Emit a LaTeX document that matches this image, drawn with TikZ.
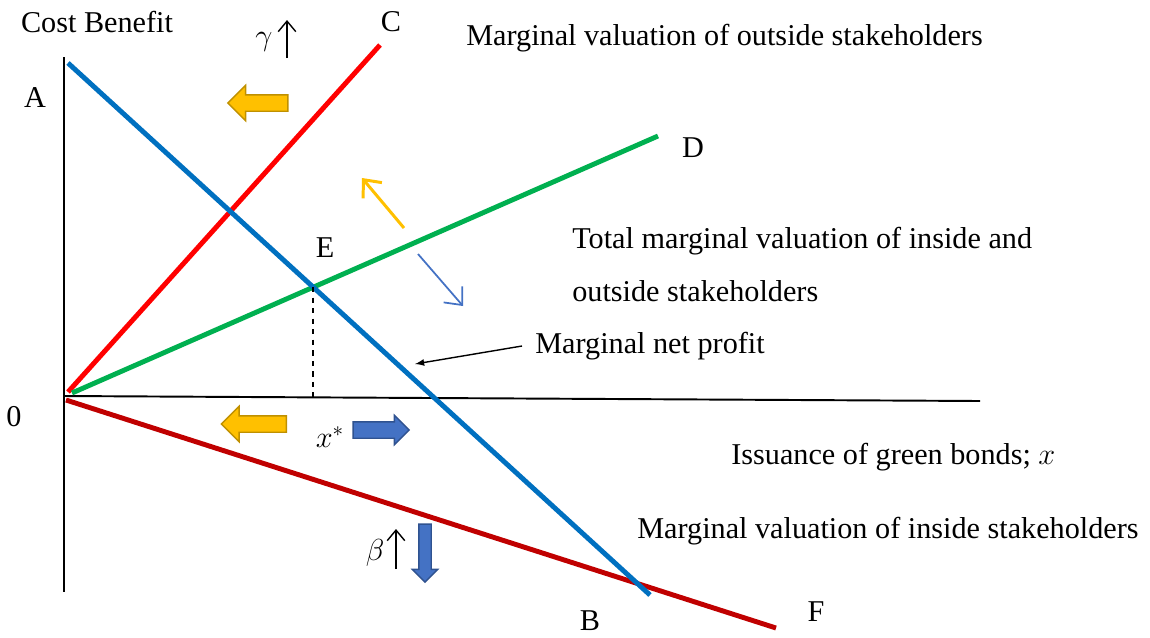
\documentclass[tikz,border=0pt]{standalone}
\usepackage{fontspec}
\setmainfont{Liberation Serif}
\usetikzlibrary{arrows.meta,shapes.arrows}
\definecolor{lineblue}{HTML}{0070C0}
\definecolor{linegreen}{HTML}{00B050}
\definecolor{linedred}{HTML}{C00000}
\definecolor{arrgold}{HTML}{FFC000}
\definecolor{arrgoldd}{HTML}{BF9000}
\definecolor{arrblue}{HTML}{4472C4}
\definecolor{arrblued}{HTML}{2F528F}
\begin{document}
\begin{tikzpicture}[x=0.02cm, y=-0.02cm, >=latex,
    every node/.style={font=\fontsize{17.2}{20}\selectfont, inner sep=0pt},
    curve/.style={line width=2.8pt},
    fat/.style={single arrow, draw, line width=0.8pt, minimum height=1.2cm,
        inner sep=0.15cm, single arrow head extend=0.19cm, single arrow head indent=0pt},
    goldarrow/.style={fat, fill=arrgold, draw=arrgoldd},
    bluearrow/.style={fat, fill=arrblue, draw=arrblued}]
    \useasboundingbox (0,0) rectangle (1150,637);
    % axes
    \coordinate (O) at (64,396);
    \coordinate (ytop) at (64,57);
    \coordinate (ybot) at (64,592);
    \coordinate (xend) at (980,401);
    \draw[line width=1.1pt] (ytop) -- (ybot);
    \draw[line width=1.1pt] (O) -- (xend);

    % curves
    \coordinate (A) at (68,63);   \coordinate (B) at (650,595);
    \coordinate (C0) at (68,392); \coordinate (C) at (380,45);
    \coordinate (D0) at (72,393); \coordinate (D) at (658,136);
    \coordinate (F0) at (66,400); \coordinate (F) at (776,628);
    \coordinate (E) at (313,287); \coordinate (xs) at (313,397);
    \draw[curve, red] (C0) -- (C);
    \draw[curve, linegreen] (D0) -- (D);
    \draw[curve, linedred] (F0) -- (F);
    \draw[curve, lineblue] (A) -- (B);
    \draw[dashed, line width=0.6pt] (E) -- (xs);

    % point labels
    \node (lA) at (35,98) {A};
    \node (lO) at (14,417) {0};
    \node (lC) at (391,22) {C};
    \node (lD) at (693,148) {D};
    \node (lE) at (325,248) {E};
    \node (lB) at (590,621) {B};
    \node (lF) at (816,612) {F};
    \node (ycap) at (97,22) {Cost Benefit};

    % texts
    \node[anchor=west] (outside) at (466,38) {Marginal valuation of outside stakeholders};
    \node[anchor=west] (total1) at (572,241) {Total marginal valuation of inside and};
    \node[anchor=west] (total2) at (572,291) {outside stakeholders};
    \node[anchor=west] (profit) at (535,346) {Marginal net profit};
    \node[anchor=west] (xcap) at (731,457) {Issuance of green bonds; $x$};
    \node[anchor=west] (inside) at (637,531) {Marginal valuation of inside stakeholders};
    \coordinate (ptail) at (522,346); \coordinate (phead) at (415,364);
    \draw[->, line width=0.8pt] (ptail) -- (phead);

    % parameters
    \node (gam) at (264,42) {$\gamma$};
    \coordinate (gam0) at (287,58); \coordinate (gam1) at (287,20);
    \draw[-{Straight Barb[length=6pt,width=10pt]}, line width=0.8pt] (gam0) -- (gam1);
    \node (bet) at (375,553) {$\beta$};
    \coordinate (bet0) at (396,569); \coordinate (bet1) at (396,529);
    \draw[-{Straight Barb[length=6pt,width=10pt]}, line width=0.8pt] (bet0) -- (bet1);
    \node (xstar) at (330,437) {$x^*$};

    % shifts
    \node[goldarrow, shape border rotate=180] (g1) at (262,103) {};
    \node[goldarrow, shape border rotate=180, minimum height=1.3cm] (g2) at (258,424) {};
    \node[bluearrow, minimum height=1.12cm, single arrow head extend=0.13cm] (b1) at (377,430) {};
    \node[bluearrow, shape border rotate=270, minimum height=1.16cm, inner sep=0.11cm,
        single arrow head extend=0.13cm] (b2) at (425,550) {};
    \coordinate (y0) at (404,228); \coordinate (y1) at (362,178);
    \draw[-{Straight Barb[length=8pt,width=14pt]}, arrgold, line width=1.7pt] (y0) -- (y1);
    \coordinate (u0) at (418,254); \coordinate (u1) at (463,306);
    \draw[-{Straight Barb[length=8pt,width=14pt]}, arrblue, line width=1pt] (u0) -- (u1);
\end{tikzpicture}
\end{document}
